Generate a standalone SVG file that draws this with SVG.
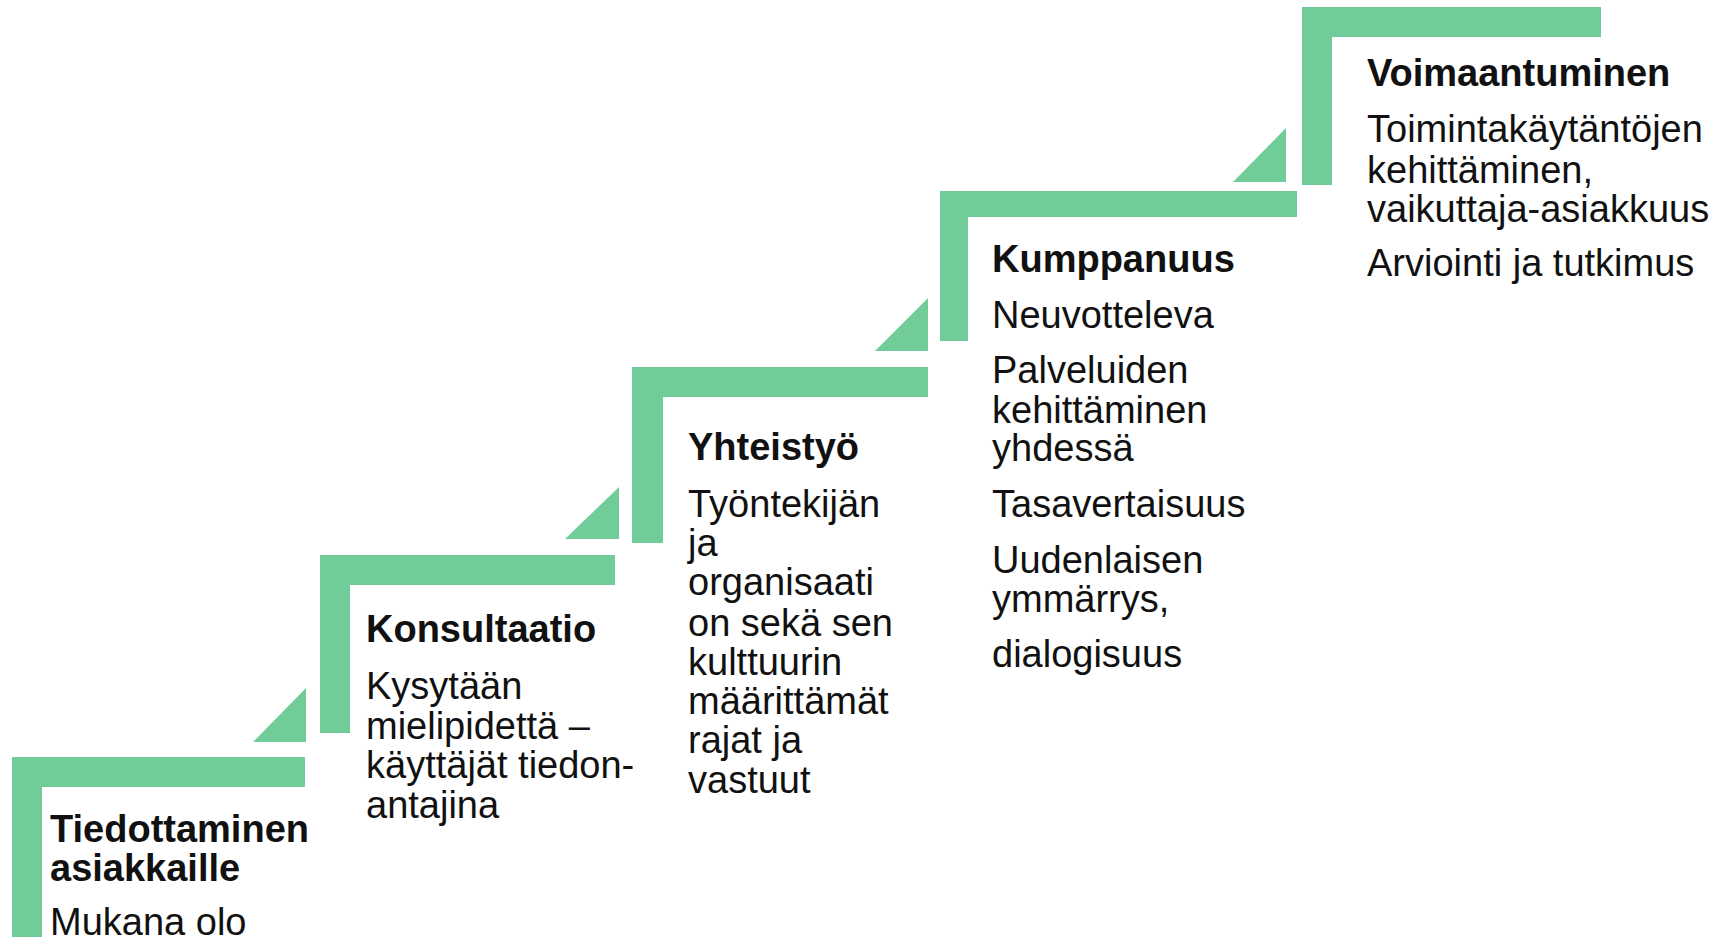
<svg xmlns="http://www.w3.org/2000/svg" width="1711" height="937" viewBox="0 0 1711 937">
<style>
.step{fill:#70CC98;}
.t{font-family:"Liberation Sans",Arial,sans-serif;font-size:38px;fill:#111;}
.b{font-weight:bold;}
</style>
<rect width="1711" height="937" fill="#fff"/>
<g id="step1">
<path class="step" d="M12,757 H305 V787 H42 V937 H12 Z"/>
<text class="t b" x="50" y="842">Tiedottaminen</text>
<text class="t b" x="50" y="881">asiakkaille</text>
<text class="t" x="50" y="935">Mukana olo</text>
</g>
<g id="step2">
<path class="step" d="M320,555 H615 V585 H350 V733 H320 Z"/>
<polygon class="step" points="253,742 306,742 306,688"/>
<text class="t b" x="366" y="642">Konsultaatio</text>
<text class="t" x="366" y="699">Kysytään</text>
<text class="t" x="366" y="739">mielipidettä –</text>
<text class="t" x="366" y="778">käyttäjät tiedon-</text>
<text class="t" x="366" y="818">antajina</text>
</g>
<g id="step3">
<path class="step" d="M632,367 H928 V397 H663 V543 H632 Z"/>
<polygon class="step" points="565,539 619,539 619,487"/>
<text class="t b" x="688" y="460">Yhteistyö</text>
<text class="t" x="688" y="517">Työntekijän</text>
<text class="t" x="688" y="556">ja</text>
<text class="t" x="688" y="595">organisaati</text>
<text class="t" x="688" y="636">on sekä sen</text>
<text class="t" x="688" y="675">kulttuurin</text>
<text class="t" x="688" y="714">määrittämät</text>
<text class="t" x="688" y="753">rajat ja</text>
<text class="t" x="688" y="793">vastuut</text>
</g>
<g id="step4">
<path class="step" d="M940,191 H1297 V217 H968 V341 H940 Z"/>
<polygon class="step" points="875,351 928,351 928,298"/>
<text class="t b" x="992" y="272">Kumppanuus</text>
<text class="t" x="992" y="328">Neuvotteleva</text>
<text class="t" x="992" y="383">Palveluiden</text>
<text class="t" x="992" y="423">kehittäminen</text>
<text class="t" x="992" y="461">yhdessä</text>
<text class="t" x="992" y="517">Tasavertaisuus</text>
<text class="t" x="992" y="573">Uudenlaisen</text>
<text class="t" x="992" y="612">ymmärrys,</text>
<text class="t" x="992" y="667">dialogisuus</text>
</g>
<g id="step5">
<path class="step" d="M1302,7 H1601 V37 H1332 V185 H1302 Z"/>
<polygon class="step" points="1233,182 1286,182 1286,128"/>
<text class="t b" x="1367" y="86">Voimaantuminen</text>
<text class="t" x="1367" y="142">Toimintakäytäntöjen</text>
<text class="t" x="1367" y="183">kehittäminen,</text>
<text class="t" x="1367" y="222">vaikuttaja-asiakkuus</text>
<text class="t" x="1367" y="276">Arviointi ja tutkimus</text>
</g>
<g id="connectors"></g>
</svg>
